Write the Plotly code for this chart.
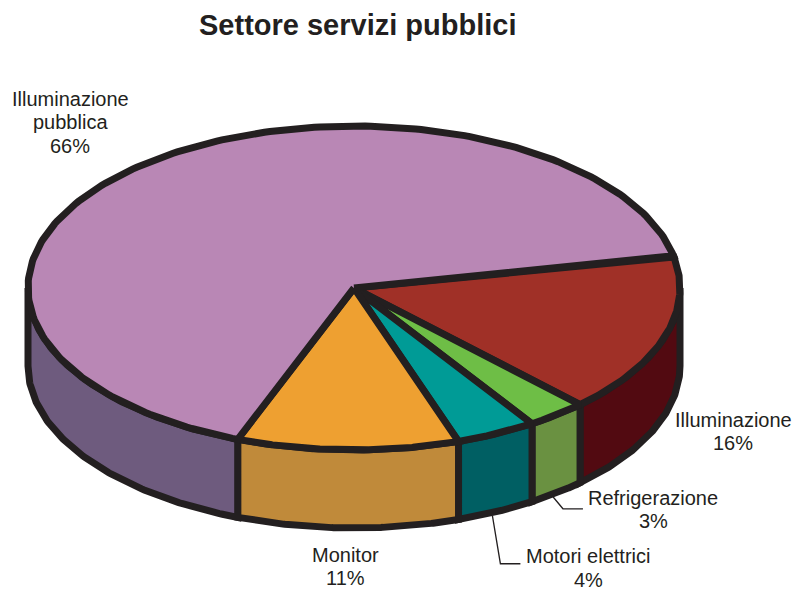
import numpy as np
import plotly.graph_objects as go

# Energy use by category in the public services sector (percent)
categories = ["Illuminazione", "Refrigerazione", "Motori elettrici", "Monitor", "Illuminazione pubblica"]
values = [16, 3, 4, 11, 66]
top_colors = ["#A03027", "#6EBE46", "#009B96", "#EEA031", "#B987B5"]
side_colors = ["#520A11", "#6A9141", "#005F63", "#C08A3A", "#6E5B7E"]

W, H = 795, 590
CX, CY = 354, 288          # centre of the top ellipse
RX, RY = 326, 162          # ellipse radii
DEPTH = 78                 # thickness of the pie
START = 11.5               # start angle (degrees, counter-clockwise from 3 o'clock)
OUTLINE = "#231F20"
LW = 7
FONT = "Liberation Sans, Arial"


def arc(a1, a2, dy=0.0, n=120):
    t = np.radians(np.linspace(a1, a2, n))
    return CX + RX * np.cos(t), CY - RY * np.sin(t) + dy


# slice boundaries, running clockwise
fracs = np.array(values, dtype=float) / sum(values)
bounds = START - 360 * np.concatenate([[0], np.cumsum(fracs)])

fig = go.Figure()

# side walls: only the part of each slice that faces the viewer (-180..0 deg)
for i in range(len(values)):
    a_hi, a_lo = bounds[i], bounds[i + 1]
    for lo, hi in [(-180, 0), (-540, -360)]:
        s_hi, s_lo = min(a_hi, hi), max(a_lo, lo)
        if s_hi <= s_lo:
            continue
        xt, yt = arc(s_hi, s_lo)
        xb, yb = arc(s_lo, s_hi, DEPTH)
        xs = np.concatenate([xt, xb, xt[:1]])
        ys = np.concatenate([yt, yb, yt[:1]])
        fig.add_trace(go.Scatter(x=xs, y=ys, mode="lines", fill="toself",
                                 fillcolor=side_colors[i],
                                 line=dict(color=OUTLINE, width=LW),
                                 hoverinfo="skip", showlegend=False))

# top faces
for i in range(len(values)):
    xa, ya = arc(bounds[i], bounds[i + 1], n=240)
    xs = np.concatenate([[CX], xa, [CX]])
    ys = np.concatenate([[CY], ya, [CY]])
    fig.add_trace(go.Scatter(x=xs, y=ys, mode="lines", fill="toself",
                             fillcolor=top_colors[i],
                             line=dict(color=OUTLINE, width=LW),
                             hoverinfo="skip", showlegend=False))

# leader lines for the two thin slices
for i, (dx1, dy1, dx2) in {1: (10, 12, 20), 2: (8, 48, 20)}.items():
    mid = (bounds[i] + bounds[i + 1]) / 2
    t = np.radians(mid)
    x0 = CX + RX * np.cos(t) - 4
    y0 = CY - RY * np.sin(t) + DEPTH + 4
    fig.add_trace(go.Scatter(x=[x0, x0 + dx1, x0 + dx1 + dx2],
                             y=[y0, y0 + dy1, y0 + dy1],
                             mode="lines", line=dict(color=OUTLINE, width=1.3),
                             hoverinfo="skip", showlegend=False))

# label lines: (text, centre x, y of first line)
labels = {
    "Illuminazione pubblica": (["Illuminazione", "pubblica", "66%"], 70, 98.5),
    "Illuminazione": (["Illuminazione", "16%"], 733, 419.5),
    "Refrigerazione": (["Refrigerazione", "3%"], 653, 497.5),
    "Motori elettrici": (["Motori elettrici", "4%"], 588, 556),
    "Monitor": (["Monitor", "11%"], 345, 554.5),
}
LINE_STEP = 23.5
for name in categories:
    lines, x, y = labels[name]
    for k, line in enumerate(lines):
        fig.add_annotation(x=x, y=y + k * LINE_STEP, text=line, showarrow=False,
                           xanchor="center", yanchor="middle",
                           font=dict(family=FONT, size=20, color="#231F20"))

fig.add_annotation(x=357, y=25, text="<b>Settore servizi pubblici</b>", showarrow=False,
                   xanchor="center", yanchor="middle",
                   font=dict(family=FONT, size=29, color="#231F20"))

fig.update_layout(
    width=W, height=H, margin=dict(l=0, r=0, t=0, b=0),
    paper_bgcolor="white", plot_bgcolor="white",
    xaxis=dict(range=[0, W], visible=False, fixedrange=True),
    yaxis=dict(range=[H, 0], visible=False, fixedrange=True),
)

fig.write_html("out.html")
